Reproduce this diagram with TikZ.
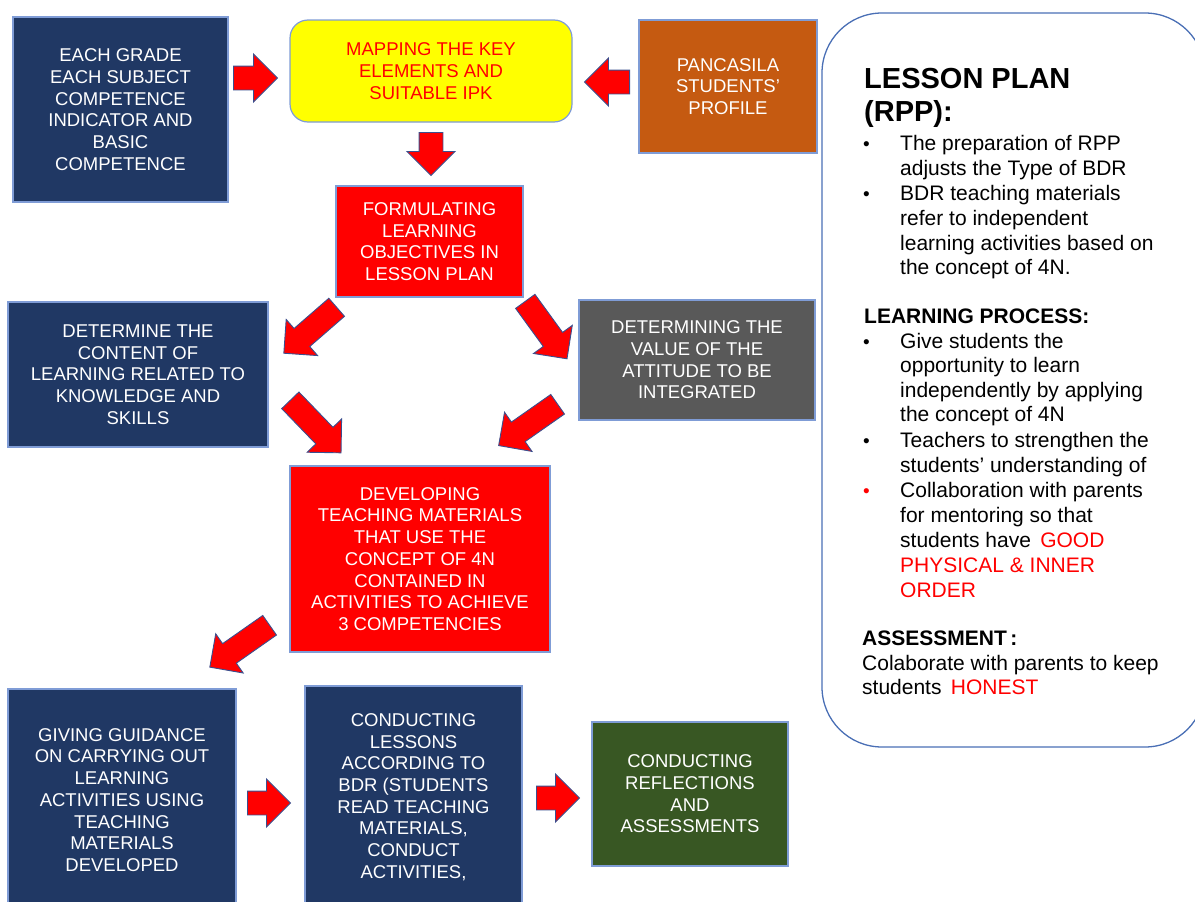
\documentclass[tikz,border=0pt]{standalone}
\usepackage{fontspec}
\setmainfont{Liberation Sans}
\usepackage{tikz}
\usetikzlibrary{shapes.arrows}
\definecolor{marino}{HTML}{203864}
\definecolor{naranja}{HTML}{C55A11}
\definecolor{gris}{HTML}{595959}
\definecolor{verde}{HTML}{385723}
\definecolor{amarillo}{HTML}{FFFF00}
\definecolor{bordecaja}{HTML}{7F9CD6}
\definecolor{bordeflecha}{HTML}{3A4F8F}
\definecolor{bordepanel}{HTML}{4A6FB5}

\begin{document}
\begin{tikzpicture}[x=1pt,y=-1pt,
	caja/.style={rectangle, draw=bordecaja, line width=1.2pt, text=white,
		align=center, inner sep=0pt, font=\fontsize{18.5}{21.7}\selectfont},
	flecha/.style={single arrow, draw=bordeflecha, fill=red, line width=0.9pt,
		inner xsep=0pt, inner ysep=11.5pt, single arrow head extend=12pt,
		single arrow tip angle=90, anchor=tail},
	linea/.style={anchor=base west, inner sep=0pt, font=\fontsize{21}{25}\selectfont}]
		\useasboundingbox (0,0) rectangle (1195,902);
		\clip (0,0) rectangle (1195,902);
		% cajas
		\node[caja, fill=marino, minimum width=215pt, minimum height=185pt] (grado) at (120.5,109.5)
			{EACH GRADE\\EACH SUBJECT\\COMPETENCE\\INDICATOR AND\\BASIC\\COMPETENCE};
		\node[caja, fill=amarillo, text=red, rounded corners=18pt, minimum width=282pt, minimum height=102pt] (mapa) at (431,71)
			{MAPPING THE KEY\\ELEMENTS AND\\SUITABLE IPK};
		\node[caja, fill=naranja, minimum width=178pt, minimum height=133pt] (pancasila) at (728,86.5)
			{PANCASILA\\STUDENTS'\\PROFILE};
		\node[caja, fill=red, minimum width=187pt, minimum height=111pt] (objetivos) at (429.5,241.5)
			{FORMULATING\\LEARNING\\OBJECTIVES IN\\LESSON PLAN};
		\node[caja, fill=marino, minimum width=260pt, minimum height=145pt] (contenido) at (138,374.5)
			{DETERMINE THE\\CONTENT OF\\LEARNING RELATED TO\\KNOWLEDGE AND\\SKILLS};
		\node[caja, fill=gris, minimum width=236pt, minimum height=120pt] (actitud) at (697,360)
			{DETERMINING THE\\VALUE OF THE\\ATTITUDE TO BE\\INTEGRATED};
		\node[caja, fill=red, minimum width=260pt, minimum height=186pt] (materiales) at (420,559)
			{DEVELOPING\\TEACHING MATERIALS\\THAT USE THE\\CONCEPT OF 4N\\CONTAINED IN\\ACTIVITIES TO ACHIEVE\\3 COMPETENCIES};
		\node[caja, fill=marino, minimum width=228pt, minimum height=222pt] (guia) at (122,800)
			{GIVING GUIDANCE\\ON CARRYING OUT\\LEARNING\\ACTIVITIES USING\\TEACHING\\MATERIALS\\DEVELOPED};
		\node[caja, fill=marino, minimum width=217pt, minimum height=222pt] (clases) at (413.5,797)
			{CONDUCTING\\LESSONS\\ACCORDING TO\\BDR (STUDENTS\\READ TEACHING\\MATERIALS,\\CONDUCT\\ACTIVITIES,};
		\node[caja, fill=verde, minimum width=196pt, minimum height=144pt] (reflexion) at (690,794)
			{CONDUCTING\\REFLECTIONS\\AND\\ASSESSMENTS};
		% flechas
		\foreach \Nombre/\Xc/\Yc/\Ang/\Largo in
		{a/233/78/0/44, b/630/82/180/45, c/431/132/-90/43, d/337/307/221/70,
		 e/525/301/-54/71, f/290/400/-46/73, g/558/404/215/72, h/270/625/215/73,
		 i/247/803/0/43, j/536/798/0/43}
		{
			\node[flecha, rotate=\Ang, minimum height=\Largo pt] (fl\Nombre) at (\Xc,\Yc) {};
		}
		% plan de clase
		\draw[bordepanel, line width=1.3pt, rounded corners=60pt] (822,13) rectangle (1205,747);
		\node[linea, font=\fontsize{29}{34}\selectfont\bfseries] (titulo1) at (864,88) {LESSON PLAN};
		\node[linea, font=\fontsize{29}{34}\selectfont\bfseries] (titulo2) at (864,121) {(RPP):};
		\node[linea, font=\fontsize{21}{25}\selectfont\bfseries] (proceso) at (864,323) {LEARNING PROCESS:};
		\node[linea, font=\fontsize{21}{25}\selectfont\bfseries] (evaluacion) at (862,645) {ASSESSMENT\,:};
		\foreach \Yc/\Texto [count=\n] in
		{150/The preparation of RPP, 175/adjusts the Type of BDR, 200/BDR teaching materials,
		 225/refer to independent, 250/learning activities based on, 274/the concept of 4N.,
		 348/Give students the, 372/opportunity to learn, 397/independently by applying,
		 421/the concept of 4N, 447/Teachers to strengthen the, 472/students' understanding of,
		 497/Collaboration with parents, 522/for mentoring so that,
		 547/{students have \,\textcolor{red}{GOOD}}, 572/\textcolor{red}{PHYSICAL \& INNER},
		 597/\textcolor{red}{ORDER}}
		{
			\node[linea] (texto\n) at (900,\Yc) {\Texto};
		}
		\foreach \Yc/\Color [count=\n] in {150/black, 200/black, 348/black, 447/black, 497/red}
		{
			\node[linea, text=\Color, font=\fontsize{19}{19}\selectfont] (punto\n) at (863,\Yc) {\textbullet};
		}
		\node[linea] (nota1) at (862,670) {Colaborate with parents to keep};
		\node[linea] (nota2) at (862,694) {students \,\textcolor{red}{HONEST}};
\end{tikzpicture}
\end{document}
